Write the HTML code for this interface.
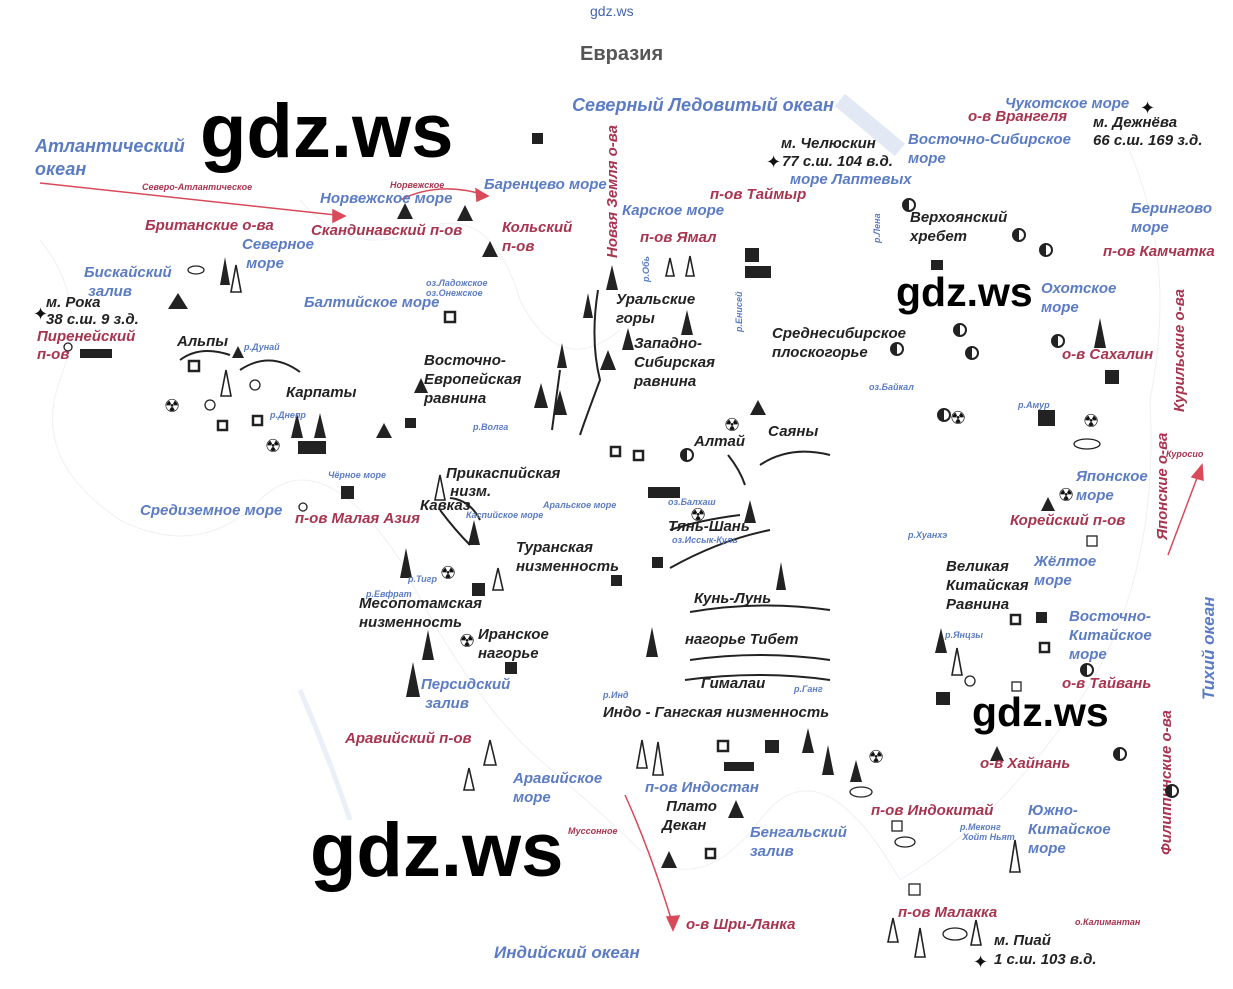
<!DOCTYPE html>
<html><head><meta charset="utf-8"><style>
body{margin:0;width:1233px;height:989px;background:#fff;position:relative;overflow:hidden;font-family:"Liberation Sans",sans-serif}
.t{position:absolute;font-style:italic;font-weight:bold;font-size:15px;line-height:18px;white-space:nowrap}
.b{color:#5b7cc4}.d{color:#222}.r{color:#a8344f}
.s{font-size:9px;line-height:10px}
.w{position:absolute;font-family:"Liberation Sans",sans-serif;font-weight:bold;color:#000;line-height:1}
.k{position:absolute;color:#111;font-size:18px;line-height:18px}
.h{position:absolute;width:10px;height:10px;border:2px solid #222;border-radius:50%;background:linear-gradient(90deg,#222 50%,#fff 50%)}
</style></head><body>
<svg width="1233" height="989" style="position:absolute;left:0;top:0">
<g fill="none" stroke="#eef0f4" stroke-width="1">
<path d="M40 240 Q90 300 60 380 T120 520 Q200 560 260 500 T400 560 Q470 700 540 760 T640 850 Q700 900 760 820 T900 880 Q1000 820 1080 700 T1150 400 Q1180 250 1120 130"/>
<path d="M300 200 Q350 260 420 230 T520 300 Q560 380 620 330"/>
<path d="M840 100 L900 150" stroke="#e2e9f5" stroke-width="16"/>
<path d="M300 690 Q330 760 350 820" stroke="#eaf0f8" stroke-width="5"/>
</g>
<g stroke="#222" stroke-width="2" fill="none">
<path d="M598 290 Q590 340 600 380 Q585 420 580 435"/>
<path d="M560 370 L552 430"/>
<path d="M728 455 Q740 470 745 485"/><path d="M760 465 Q790 445 830 455"/>
<path d="M670 568 Q720 540 770 530"/><path d="M670 530 Q700 520 740 515"/>
<path d="M690 612 Q760 600 830 610"/><path d="M690 660 Q760 650 830 660"/>
<path d="M685 680 Q760 670 830 680"/>
<path d="M180 360 Q200 345 230 355"/><path d="M240 370 Q270 350 300 372"/>
<path d="M440 510 Q455 530 470 545"/><path d="M450 498 Q470 500 480 520"/>
</g>
<g stroke="#d84a5a" stroke-width="1.5" fill="#d84a5a">
<path d="M40 183 Q200 200 345 216" fill="none"/><polygon points="345,216 333,210 333,222"/>
<path d="M400 200 Q440 180 488 196" fill="none"/><polygon points="488,196 476,189 477,201"/>
<path d="M625 795 Q650 850 673 925" fill="none"/><polygon points="673,930 667,917 679,916"/>
<path d="M1168 555 Q1185 510 1200 470" fill="none"/><polygon points="1202,465 1192,477 1203,480"/>
</g>
<g fill="#222">
<polygon points="178,293 168,309 188,309"/><polygon points="490,241 482,257 498,257"/>
<polygon points="405,203 397,219 413,219"/><polygon points="465,205 457,221 473,221"/>
<polygon points="225,257 220,285 230,285"/><polygon points="612,265 606,290 618,290"/>
<polygon points="588,293 583,318 593,318"/><polygon points="687,310 681,335 693,335"/>
<polygon points="628,328 622,350 634,350"/><polygon points="608,350 600,370 616,370"/>
<polygon points="562,343 557,368 567,368"/><polygon points="541,383 534,408 548,408"/>
<polygon points="560,390 553,415 567,415"/><polygon points="421,378 414,393 428,393"/>
<polygon points="384,423 376,438 392,438"/><polygon points="297,413 291,438 303,438"/>
<polygon points="320,413 314,438 326,438"/><polygon points="238,346 232,358 244,358"/>
<polygon points="758,400 750,415 766,415"/><polygon points="750,500 744,523 756,523"/>
<polygon points="474,520 468,545 480,545"/><polygon points="406,548 400,578 412,578"/>
<polygon points="428,630 422,660 434,660"/><polygon points="413,662 406,697 420,697"/>
<polygon points="652,627 646,657 658,657"/><polygon points="781,562 776,590 786,590"/>
<polygon points="808,728 802,753 814,753"/><polygon points="828,745 822,775 834,775"/>
<polygon points="856,760 850,782 862,782"/><polygon points="736,800 728,818 744,818"/>
<polygon points="669,851 661,868 677,868"/><polygon points="1100,318 1094,348 1106,348"/>
<polygon points="1048,497 1041,511 1055,511"/><polygon points="997,746 990,761 1004,761"/>
<polygon points="941,628 935,653 947,653"/>
</g>
<g fill="none" stroke="#222" stroke-width="1.6">
<polygon points="236,265 231,292 241,292"/><polygon points="690,256 686,276 694,276"/>
<polygon points="670,258 666,276 674,276"/><polygon points="226,370 221,396 231,396"/>
<polygon points="440,475 435,500 445,500"/><polygon points="498,568 493,590 503,590"/>
<polygon points="490,740 484,765 496,765"/><polygon points="469,768 464,790 474,790"/>
<polygon points="642,740 637,768 647,768"/><polygon points="658,742 653,775 663,775"/>
<polygon points="957,648 952,675 962,675"/><polygon points="1015,840 1010,872 1020,872"/>
<polygon points="893,918 888,942 898,942"/><polygon points="920,928 915,957 925,957"/>
<polygon points="976,920 971,945 981,945"/>
</g>
<g fill="#222">
<rect x="532" y="133" width="11" height="11"/><rect x="745" y="248" width="14" height="14"/>
<rect x="745" y="266" width="26" height="12"/><rect x="931" y="260" width="12" height="10"/>
<rect x="80" y="349" width="32" height="9"/><rect x="405" y="418" width="11" height="10"/>
<rect x="298" y="441" width="28" height="13"/><rect x="341" y="486" width="13" height="13"/>
<rect x="648" y="487" width="32" height="11"/><rect x="652" y="557" width="11" height="11"/>
<rect x="611" y="575" width="11" height="11"/><rect x="472" y="583" width="13" height="13"/>
<rect x="505" y="662" width="12" height="12"/><rect x="936" y="692" width="14" height="13"/>
<rect x="1105" y="370" width="14" height="14"/><rect x="1038" y="410" width="17" height="16"/>
<rect x="724" y="762" width="30" height="9"/><rect x="765" y="740" width="14" height="13"/>
<rect x="1036" y="612" width="11" height="11"/>
</g>
<g fill="none" stroke="#222" stroke-width="2.5">
<rect x="445" y="312" width="10" height="10"/><rect x="189" y="361" width="10" height="10"/>
<rect x="218" y="421" width="9" height="9"/><rect x="253" y="416" width="9" height="9"/>
<rect x="611" y="447" width="9" height="9"/><rect x="634" y="451" width="9" height="9"/>
<rect x="1040" y="643" width="9" height="9"/><rect x="718" y="741" width="10" height="10"/>
<rect x="1011" y="615" width="9" height="9"/><rect x="706" y="849" width="9" height="9"/>
</g>
<g fill="none" stroke="#222" stroke-width="1.3">
<rect x="1087" y="536" width="10" height="10"/><rect x="1012" y="682" width="9" height="9"/>
<rect x="892" y="821" width="10" height="10"/><rect x="909" y="884" width="11" height="11"/>
<circle cx="255" cy="385" r="5"/><circle cx="210" cy="405" r="5"/><circle cx="303" cy="507" r="4"/>
<circle cx="970" cy="681" r="5"/><circle cx="68" cy="347" r="4"/>
<ellipse cx="196" cy="270" rx="8" ry="4"/><ellipse cx="1087" cy="444" rx="13" ry="5"/>
<ellipse cx="861" cy="792" rx="11" ry="5"/><ellipse cx="905" cy="842" rx="10" ry="5"/>
<ellipse cx="955" cy="934" rx="12" ry="6"/>
</g>
</svg>
<div class="w" style="left:590px;top:4px;font-size:14px;font-weight:normal;color:#4466aa">gdz.ws</div>
<div class="t" style="left:580px;top:45px;font-style:normal;color:#555;font-size:20px">Евразия</div>
<div class="w" style="left:200px;top:94px;font-size:76px">gdz.ws</div>
<div class="w" style="left:896px;top:272px;font-size:41px">gdz.ws</div>
<div class="w" style="left:972px;top:692px;font-size:41px">gdz.ws</div>
<div class="w" style="left:310px;top:813px;font-size:76px">gdz.ws</div>

<div class="t b" style="left:572px;top:96px;font-size:18px">Северный Ледовитый океан</div>
<div class="t b" style="left:35px;top:135px;font-size:18px;line-height:23px">Атлантический<br>океан</div>
<div class="t r s" style="left:142px;top:182px">Северо-Атлантическое</div>
<div class="t r s" style="left:390px;top:180px">Норвежское</div>
<div class="t b" style="left:320px;top:190px">Норвежское море</div>
<div class="t b" style="left:484px;top:176px">Баренцево море</div>
<div class="t r" style="left:145px;top:217px">Британские о-ва</div>
<div class="t r" style="left:311px;top:222px">Скандинавский п-ов</div>
<div class="t r" style="left:502px;top:218px;line-height:19px">Кольский<br>п-ов</div>
<div class="t b" style="left:242px;top:235px;line-height:19px">Северное<br>&nbsp;море</div>
<div class="t b" style="left:84px;top:263px;line-height:19px">Бискайский<br>&nbsp;залив</div>
<div class="t d" style="left:46px;top:294px;line-height:17px">м. Рока<br>38 с.ш. 9 з.д.</div>
<div class="t r" style="left:37px;top:328px;line-height:18px">Пиренейский<br>п-ов</div>
<div class="t b s" style="left:426px;top:278px">оз.Ладожское<br>оз.Онежское</div>
<div class="t b" style="left:304px;top:294px">Балтийское море</div>
<div class="t d" style="left:177px;top:333px">Альпы</div>
<div class="t b s" style="left:244px;top:342px">р.Дунай</div>
<div class="t d" style="left:286px;top:384px">Карпаты</div>
<div class="t b s" style="left:270px;top:410px">р.Днепр</div>
<div class="t d" style="left:424px;top:351px;line-height:19px">Восточно-<br>Европейская<br>равнина</div>
<div class="t b s" style="left:473px;top:422px">р.Волга</div>
<div class="t b s" style="left:328px;top:470px">Чёрное море</div>
<div class="t d" style="left:446px;top:465px;line-height:18px">Прикаспийская<br>&nbsp;низм.</div>
<div class="t d" style="left:420px;top:497px">Кавказ</div>
<div class="t b s" style="left:466px;top:510px">Каспийское море</div>
<div class="t b s" style="left:543px;top:500px">Аральское море</div>
<div class="t b" style="left:140px;top:502px">Средиземное море</div>
<div class="t r" style="left:295px;top:510px">п-ов Малая Азия</div>
<div class="t d" style="left:516px;top:538px;line-height:19px">Туранская<br>низменность</div>
<div class="t b s" style="left:408px;top:574px">р.Тигр</div>
<div class="t b s" style="left:366px;top:589px">р.Евфрат</div>
<div class="t d" style="left:359px;top:594px;line-height:19px">Месопотамская<br>низменность</div>
<div class="t d" style="left:478px;top:625px;line-height:19px">Иранское<br>нагорье</div>
<div class="t b" style="left:421px;top:675px;line-height:19px">Персидский<br>&nbsp;залив</div>
<div class="t r" style="left:345px;top:730px">Аравийский п-ов</div>
<div class="t b" style="left:513px;top:769px;line-height:19px">Аравийское<br>море</div>
<div class="t r s" style="left:568px;top:826px">Муссонное</div>
<div class="t b" style="left:494px;top:944px;font-size:17px">Индийский океан</div>
<div class="t r" style="left:686px;top:916px">о-в Шри-Ланка</div>
<div class="t b" style="left:645px;top:779px">п-ов Индостан</div>
<div class="t d" style="left:662px;top:797px;line-height:19px">&nbsp;Плато<br>Декан</div>
<div class="t b" style="left:750px;top:823px;line-height:19px">Бенгальский<br>залив</div>
<div class="t d" style="left:603px;top:704px">Индо  -  Гангская низменность</div>
<div class="t b s" style="left:603px;top:690px">р.Инд</div>
<div class="t b s" style="left:794px;top:684px">р.Ганг</div>
<div class="t d" style="left:701px;top:675px">Гималаи</div>
<div class="t d" style="left:685px;top:631px">нагорье Тибет</div>
<div class="t d" style="left:694px;top:590px">Кунь-Лунь</div>
<div class="t d" style="left:668px;top:518px">Тянь-Шань</div>
<div class="t b s" style="left:668px;top:497px">оз.Балхаш</div>
<div class="t b s" style="left:672px;top:535px">оз.Иссык-Куль</div>
<div class="t d" style="left:694px;top:433px">Алтай</div>
<div class="t d" style="left:768px;top:423px">Саяны</div>
<div class="t b s" style="left:869px;top:382px">оз.Байкал</div>
<div class="t d" style="left:772px;top:324px;line-height:19px">Среднесибирское<br>плоскогорье</div>
<div class="t d" style="left:616px;top:290px;line-height:19px">Уральские<br>горы</div>
<div class="t d" style="left:634px;top:334px;line-height:19px">Западно-<br>Сибирская<br>равнина</div>
<div class="t r" style="left:640px;top:229px">п-ов Ямал</div>
<div class="t b" style="left:622px;top:202px">Карское море</div>
<div class="t r" style="left:604px;top:258px;transform:rotate(-90deg);transform-origin:0 0;font-size:15px">Новая Земля о-ва</div>
<div class="t b s" style="left:641px;top:282px;transform:rotate(-90deg);transform-origin:0 0">р.Обь</div>
<div class="t b s" style="left:734px;top:332px;transform:rotate(-90deg);transform-origin:0 0">р.Енисей</div>
<div class="t b s" style="left:872px;top:243px;transform:rotate(-90deg);transform-origin:0 0">р.Лена</div>
<div class="t r" style="left:710px;top:186px">п-ов Таймыр</div>
<div class="t d" style="left:781px;top:135px">м. Челюскин</div>
<div class="t d" style="left:782px;top:153px">77 с.ш. 104 в.д.</div>
<div class="t b" style="left:790px;top:171px">море Лаптевых</div>
<div class="t b" style="left:908px;top:130px;line-height:19px">Восточно-Сибирское<br>море</div>
<div class="t r" style="left:968px;top:108px">о-в Врангеля</div>
<div class="t b" style="left:1005px;top:95px">Чукотское море</div>
<div class="t d" style="left:1093px;top:114px;line-height:18px">м. Дежнёва<br>66 с.ш. 169 з.д.</div>
<div class="t d" style="left:910px;top:208px;line-height:19px">Верхоянский<br>хребет</div>
<div class="t b" style="left:1131px;top:199px;line-height:19px">Берингово<br>море</div>
<div class="t r" style="left:1103px;top:243px">п-ов Камчатка</div>
<div class="t b" style="left:1041px;top:279px;line-height:19px">Охотское<br>море</div>
<div class="t r" style="left:1062px;top:346px">о-в Сахалин</div>
<div class="t r" style="left:1171px;top:412px;transform:rotate(-90deg);transform-origin:0 0">Курильские о-ва</div>
<div class="t b s" style="left:1018px;top:400px">р.Амур</div>
<div class="t b" style="left:1076px;top:467px;line-height:19px">Японское<br>море</div>
<div class="t r" style="left:1154px;top:540px;transform:rotate(-90deg);transform-origin:0 0">Японские о-ва</div>
<div class="t r s" style="left:1166px;top:449px">Куросио</div>
<div class="t r" style="left:1010px;top:512px">Корейский п-ов</div>
<div class="t b s" style="left:908px;top:530px">р.Хуанхэ</div>
<div class="t d" style="left:946px;top:557px;line-height:19px">Великая<br>Китайская<br>Равнина</div>
<div class="t b" style="left:1034px;top:552px;line-height:19px">Жёлтое<br>море</div>
<div class="t b" style="left:1069px;top:607px;line-height:19px">Восточно-<br>Китайское<br>море</div>
<div class="t b" style="left:1200px;top:700px;transform:rotate(-90deg);transform-origin:0 0;font-size:17px">Тихий океан</div>
<div class="t b s" style="left:945px;top:630px">р.Янцзы</div>
<div class="t r" style="left:1062px;top:675px">о-в Тайвань</div>
<div class="t r" style="left:980px;top:755px">о-в Хайнань</div>
<div class="t r" style="left:1158px;top:855px;transform:rotate(-90deg);transform-origin:0 0">Филиппинские о-ва</div>
<div class="t r" style="left:871px;top:802px">п-ов Индокитай</div>
<div class="t b s" style="left:960px;top:822px">р.Меконг<br>&nbsp;Хойт Ньят</div>
<div class="t b" style="left:1028px;top:801px;line-height:19px">Южно-<br>Китайское<br>море</div>
<div class="t r" style="left:898px;top:904px">п-ов Малакка</div>
<div class="t r s" style="left:1075px;top:917px">о.Калимантан</div>
<div class="t d" style="left:994px;top:931px;line-height:19px">м. Пиай<br>1 с.ш. 103 в.д.</div>

<div class="k" style="left:164px;top:397px">☢</div><div class="k" style="left:265px;top:437px">☢</div>
<div class="k" style="left:440px;top:564px">☢</div><div class="k" style="left:459px;top:632px">☢</div>
<div class="k" style="left:724px;top:416px">☢</div><div class="k" style="left:690px;top:506px">☢</div>
<div class="k" style="left:950px;top:409px">☢</div><div class="k" style="left:1083px;top:412px">☢</div>
<div class="k" style="left:1058px;top:486px">☢</div><div class="k" style="left:868px;top:748px">☢</div>
<div class="h" style="left:902px;top:198px"></div><div class="h" style="left:1012px;top:228px"></div>
<div class="h" style="left:1039px;top:243px"></div><div class="h" style="left:953px;top:323px"></div>
<div class="h" style="left:890px;top:342px"></div><div class="h" style="left:965px;top:346px"></div>
<div class="h" style="left:1051px;top:334px"></div><div class="h" style="left:680px;top:448px"></div>
<div class="h" style="left:1080px;top:663px"></div><div class="h" style="left:1113px;top:747px"></div>
<div class="h" style="left:1165px;top:784px"></div><div class="h" style="left:937px;top:408px"></div>
<div class="k" style="left:33px;top:305px">✦</div><div class="k" style="left:766px;top:153px">✦</div>
<div class="k" style="left:1140px;top:99px">✦</div><div class="k" style="left:973px;top:953px">✦</div>
</body></html>
